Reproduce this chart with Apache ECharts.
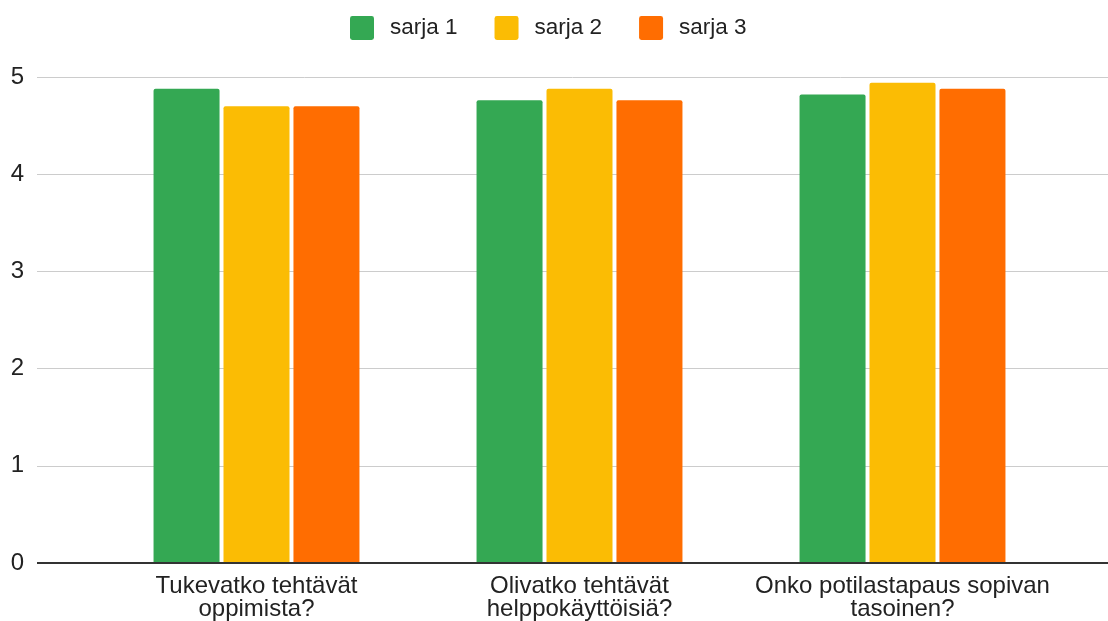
<!DOCTYPE html>
<html><head><meta charset="utf-8">
<script src="https://cdn.jsdelivr.net/npm/echarts@6/dist/echarts.min.js"></script>
<style>html,body{margin:0;padding:0;background:#fff}#c{width:1108px;height:621px}</style>
</head><body><div id="c"></div>
<script>
const categories = ["Tukevatko tehtävät\noppimista?", "Olivatko tehtävät\nhelppokäyttöisiä?", "Onko potilastapaus sopivan\ntasoinen?"];
const seriesNames = ["sarja 1", "sarja 2", "sarja 3"];
const sarja1 = [4.88, 4.76, 4.82];
const sarja2 = [4.70, 4.88, 4.94];
const sarja3 = [4.70, 4.76, 4.88];
const colors = ["#34a853", "#fbbc04", "#ff6d01"];
const yTicks = [0, 1, 2, 3, 4, 5];

const font = "Arial, 'Liberation Sans', sans-serif";
const chart = echarts.init(document.getElementById('c'));
const values = [sarja1, sarja2, sarja3];
chart.setOption({
  animation: false,
  color: colors,
  legend: {
    top: 11, left: 345, itemWidth: 24, itemHeight: 24, itemGap: 37,
    icon: 'path://M1,0H9A1,1,0,0,1,10,1V9A1,1,0,0,1,9,10H1A1,1,0,0,1,0,9V1A1,1,0,0,1,1,0Z',
    textStyle: {fontFamily: font, fontSize: 22.5, color: '#222', padding: [0, 0, 0, 11]},
    data: seriesNames
  },
  grid: [
    {left: 95, right: 44, top: 77, bottom: 58},
    {left: 37, right: 0, top: 77, bottom: 58}
  ],
  xAxis: [
    {type: 'category', gridIndex: 0, data: categories,
     axisLine: {show: false}, axisTick: {show: false},
     axisLabel: {fontFamily: font, fontSize: 24, color: '#222', margin: 12, lineHeight: 23, interval: 0}},
    {type: 'value', gridIndex: 1, min: 0, max: 1, show: false}
  ],
  yAxis: [
    {type: 'value', gridIndex: 0, min: 0, max: 5, interval: 1, show: false},
    {type: 'value', gridIndex: 1, min: yTicks[0], max: yTicks[yTicks.length-1], interval: 1,
     axisLine: {show: false}, axisTick: {show: false},
     axisLabel: {fontFamily: font, fontSize: 24, color: '#222', margin: 13},
     splitLine: {lineStyle: {color: '#cccccc', width: 1}}}
  ],
  series: seriesNames.map((n, i) => ({
    name: n, type: 'bar', xAxisIndex: 0, yAxisIndex: 0,
    data: values[i], barWidth: 66, barGap: '6%',
    itemStyle: {color: colors[i], borderRadius: [2, 2, 0, 0]}
  })).concat([{
    type: 'line', xAxisIndex: 1, yAxisIndex: 1, data: [], silent: true,
    markLine: {symbol: 'none', silent: true, label: {show: false},
      lineStyle: {color: '#333', width: 2, type: 'solid'}, data: [{yAxis: 0}]}
  }])
});
</script></body></html>
